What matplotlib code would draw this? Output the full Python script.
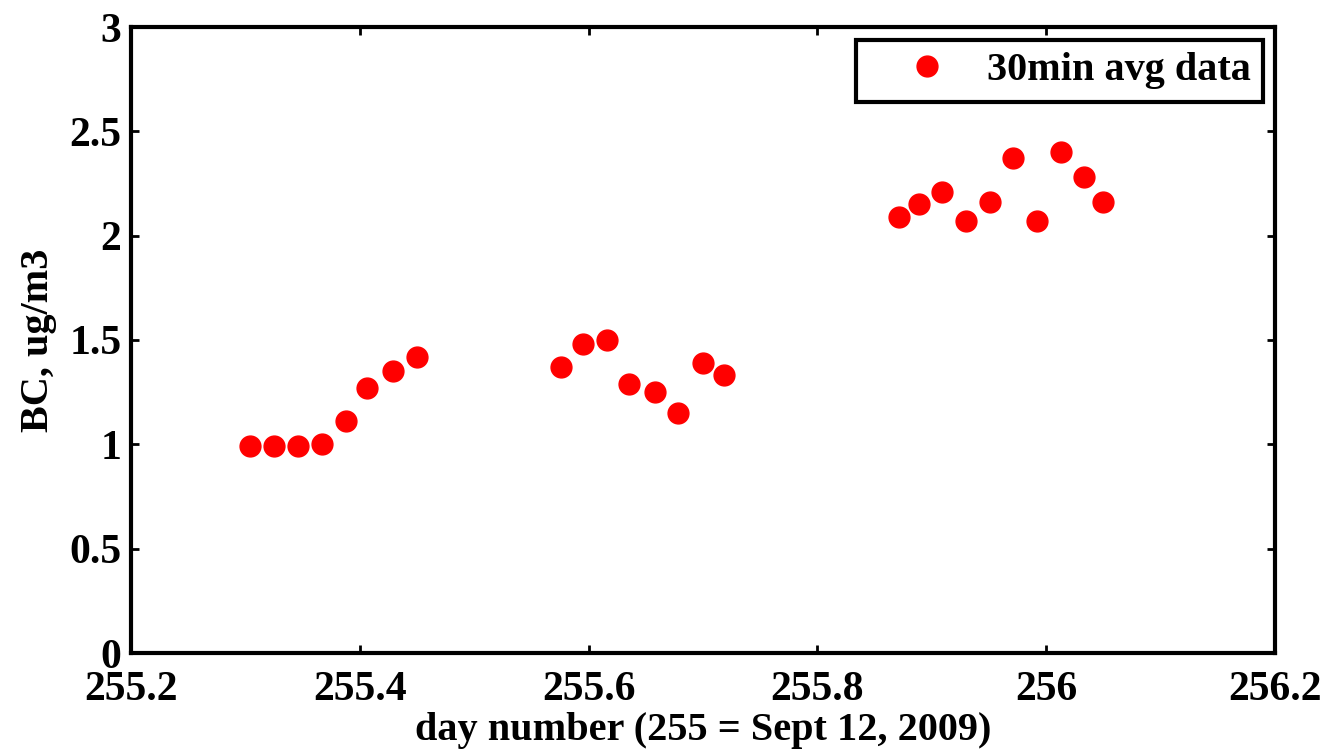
import numpy as np
import matplotlib.pyplot as plt

plt.rcParams['font.family'] = ['Liberation Serif', 'DejaVu Serif']
plt.rcParams['font.weight'] = 'bold'

# 30 min averaged black carbon, day number
day = [255.304, 255.325, 255.346, 255.367, 255.388, 255.406, 255.429, 255.450,
       255.576, 255.595, 255.616, 255.635, 255.658, 255.678, 255.700, 255.718,
       255.871, 255.889, 255.909, 255.930, 255.951, 255.971, 255.992, 256.013,
       256.033, 256.050]
bc = [0.99, 0.99, 0.99, 1.00, 1.11, 1.27, 1.35, 1.42,
      1.37, 1.48, 1.50, 1.29, 1.25, 1.15, 1.39, 1.33,
      2.09, 2.15, 2.21, 2.07, 2.16, 2.37, 2.07, 2.40,
      2.28, 2.16]

xticks = [255.2, 255.4, 255.6, 255.8, 256, 256.2]
xticklabels = ['255.2', '255.4', '255.6', '255.8', '256', '256.2']
yticks = [0, 0.5, 1, 1.5, 2, 2.5, 3]
yticklabels = ['0', '0.5', '1', '1.5', '2', '2.5', '3']

fig = plt.figure(figsize=(13.26, 7.52), dpi=100)
ax = fig.add_axes([131/1326, 1 - 653/752, (1275-131)/1326, (653-27)/752])

ax.plot(day, bc, 'o', color='red', markersize=15, label='30min avg data')

ax.set_xlim(255.2, 256.2)
ax.set_ylim(0, 3)
ax.set_xticks(xticks)
ax.set_xticklabels(xticklabels)
ax.set_yticks(yticks)
ax.set_yticklabels(yticklabels)
ax.tick_params(direction='in', length=6, width=2, labelsize=30,
               top=True, right=True)
ax.tick_params(axis='x', pad=13)
ax.tick_params(axis='y', pad=7)
for s in ax.spines.values():
    s.set_linewidth(3)

ax.set_xlabel('day number (255 = Sept 12, 2009)', fontsize=29, fontweight='bold', labelpad=2)
ax.set_ylabel('BC, ug/m3', fontsize=29, fontweight='bold', labelpad=9)

leg = ax.legend(loc='upper right', fontsize=29, fancybox=False, borderpad=0.3,
                handlelength=2.9, handletextpad=0.05, markerscale=1.0,
                framealpha=1, borderaxespad=0,
                bbox_to_anchor=(0.9895, 0.979))
leg.get_frame().set_edgecolor('black')
leg.get_frame().set_linewidth(3)

fig.savefig('out.png', dpi=100)
